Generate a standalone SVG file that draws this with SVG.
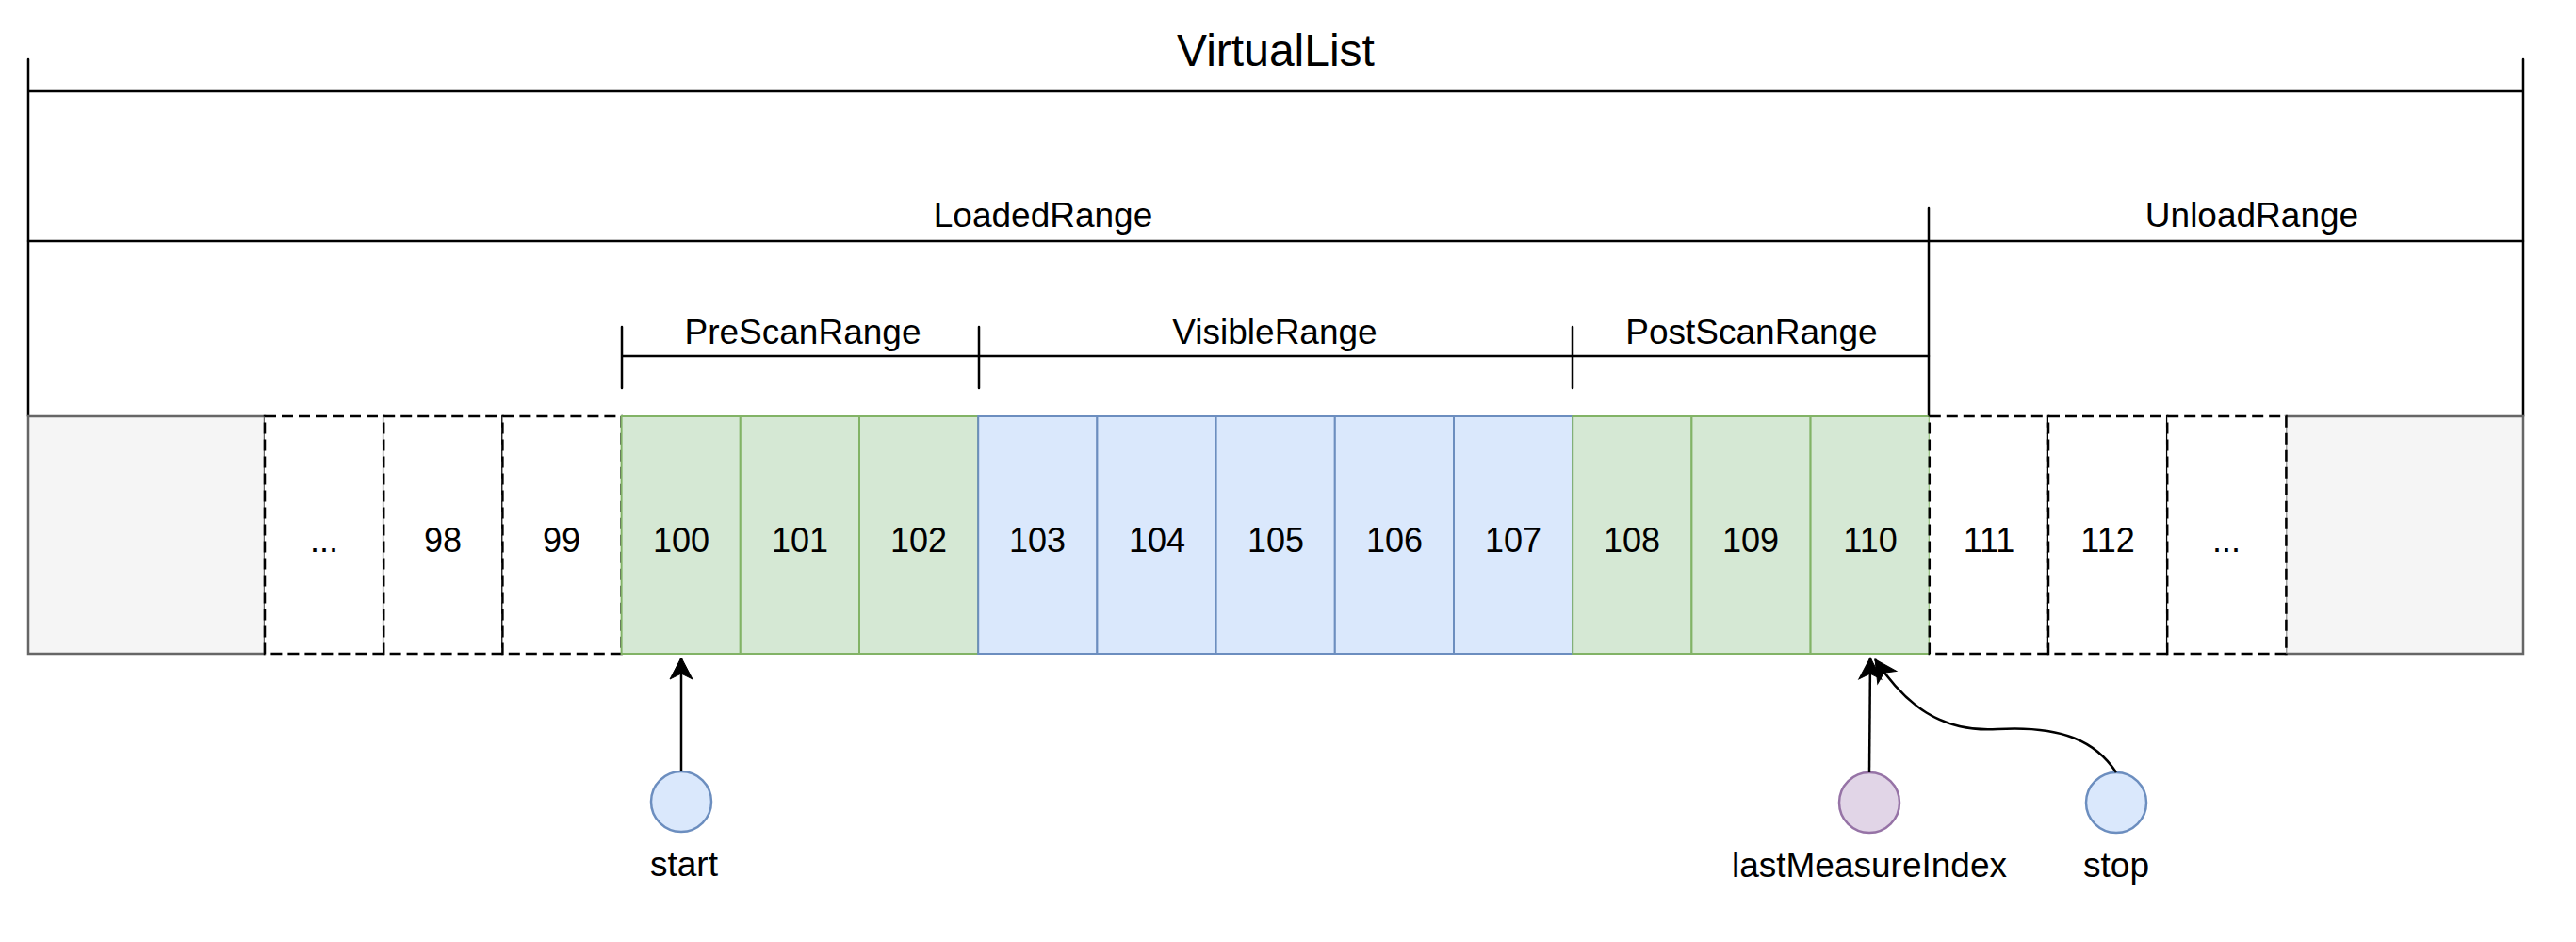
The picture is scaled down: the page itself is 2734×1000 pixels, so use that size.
<svg xmlns="http://www.w3.org/2000/svg" width="2734" height="1000" viewBox="0 0 2734 1000">
<style>
  text { font-family: "Liberation Sans", "DejaVu Sans", sans-serif; fill: #000; text-anchor: middle; }
  .title { font-size: 48px; }
  .lbl { font-size: 37px; }
  .num { font-size: 36px; }
  .line { stroke: #000; stroke-width: 2.5; fill: none; stroke-linecap: round; }
  .gray { fill: #f5f5f5; stroke: #666666; stroke-width: 2.5; }
  .dash { fill: #ffffff; stroke: #000; stroke-width: 2.5; stroke-dasharray: 12 6; }
  .green { fill: #d5e8d4; stroke: #82b366; stroke-width: 2; }
  .blue { fill: #dae8fc; stroke: #6c8ebf; stroke-width: 2; }
  .cblue { fill: #dae8fc; stroke: #6c8ebf; stroke-width: 2.5; }
  .cpurple { fill: #e1d5e7; stroke: #9673a6; stroke-width: 2.5; }
  .conn { stroke: #000; stroke-width: 2.5; fill: none; marker-end: url(#arrow); }
</style>
<defs>
  <marker id="arrow" viewBox="0 0 10 10" refX="9" refY="5" markerWidth="10" markerHeight="10" markerUnits="userSpaceOnUse" orient="auto" overflow="visible">
    <path d="M-14,-7 L9,5 L-14,17 L-8,5 Z" fill="#000" stroke="#000" stroke-width="1" transform="translate(0,0)"/>
  </marker>
</defs>
<rect width="2734" height="1000" fill="#ffffff"/>

<g id="virtual-list">
  <path class="line" d="M30,63 L30,442 M2678,63 L2678,442 M30,97 L2678,97"/>
  <text class="title" x="1354" y="70">VirtualList</text>
</g>

<g id="loaded-range">
  <path class="line" d="M30,256 L2678,256 M2047,221 L2047,442"/>
  <text class="lbl" x="1107" y="241">LoadedRange</text>
</g>

<g id="unload-range">
  <text class="lbl" x="2390" y="241">UnloadRange</text>
</g>

<g id="prescan-range">
  <path class="line" d="M660,347 L660,412 M1039,347 L1039,412 M660,378 L1039,378"/>
  <text class="lbl" x="852" y="365">PreScanRange</text>
</g>

<g id="visible-range">
  <path class="line" d="M1669,347 L1669,412 M1039,378 L1669,378"/>
  <text class="lbl" x="1353" y="365">VisibleRange</text>
</g>

<g id="postscan-range">
  <path class="line" d="M1669,378 L2047,378"/>
  <text class="lbl" x="1859" y="365">PostScanRange</text>
</g>

<g id="gray-left"><rect class="gray" x="30" y="442" width="251" height="252"/></g>
<g id="gray-right"><rect class="gray" x="2426" y="442" width="252" height="252"/></g>

<g id="cell-ellipsis-left"><rect class="dash" x="281" y="442" width="126.2" height="252"/><text class="num" x="344" y="586">...</text></g>
<g id="cell-98"><rect class="dash" x="407.2" y="442" width="126.2" height="252"/><text class="num" x="470" y="586">98</text></g>
<g id="cell-99"><rect class="dash" x="533.4" y="442" width="126.2" height="252"/><text class="num" x="596" y="586">99</text></g>

<g id="cell-100"><rect class="green" x="659.6" y="442" width="126.2" height="252"/><text class="num" x="723" y="586">100</text></g>
<g id="cell-101"><rect class="green" x="785.8" y="442" width="126.2" height="252"/><text class="num" x="849" y="586">101</text></g>
<g id="cell-102"><rect class="green" x="912" y="442" width="126.2" height="252"/><text class="num" x="975" y="586">102</text></g>

<g id="cell-103"><rect class="blue" x="1038.2" y="442" width="126.2" height="252"/><text class="num" x="1101" y="586">103</text></g>
<g id="cell-104"><rect class="blue" x="1164.4" y="442" width="126.2" height="252"/><text class="num" x="1228" y="586">104</text></g>
<g id="cell-105"><rect class="blue" x="1290.6" y="442" width="126.2" height="252"/><text class="num" x="1354" y="586">105</text></g>
<g id="cell-106"><rect class="blue" x="1416.8" y="442" width="126.2" height="252"/><text class="num" x="1480" y="586">106</text></g>
<g id="cell-107"><rect class="blue" x="1543" y="442" width="126.2" height="252"/><text class="num" x="1606" y="586">107</text></g>

<g id="cell-108"><rect class="green" x="1669.2" y="442" width="126.2" height="252"/><text class="num" x="1732" y="586">108</text></g>
<g id="cell-109"><rect class="green" x="1795.4" y="442" width="126.2" height="252"/><text class="num" x="1858" y="586">109</text></g>
<g id="cell-110"><rect class="green" x="1921.6" y="442" width="126.2" height="252"/><text class="num" x="1985" y="586">110</text></g>

<g id="cell-111"><rect class="dash" x="2047.8" y="442" width="126.2" height="252"/><text class="num" x="2111" y="586">111</text></g>
<g id="cell-112"><rect class="dash" x="2174" y="442" width="126.2" height="252"/><text class="num" x="2237" y="586">112</text></g>
<g id="cell-ellipsis-right"><rect class="dash" x="2300.2" y="442" width="126.2" height="252"/><text class="num" x="2363" y="586">...</text></g>

<g id="start">
  <circle class="cblue" cx="723" cy="851" r="32"/>
  <text class="lbl" x="726" y="930">start</text>
</g>
<g id="lastMeasureIndex">
  <circle class="cpurple" cx="1984" cy="852" r="32"/>
  <text class="lbl" x="1984" y="931">lastMeasureIndex</text>
</g>
<g id="stop">
  <circle class="cblue" cx="2246" cy="852" r="32"/>
  <text class="lbl" x="2246" y="931">stop</text>
</g>

<g id="connectors">
  <path class="conn" d="M723,819 L723,698"/>
  <path class="conn" d="M1984,820 L1985,698"/>
  <path class="conn" d="M2246,820 C2225,788 2190,770 2120,774 C2060,778 2022,748 1990,700"/>
</g>
</svg>
